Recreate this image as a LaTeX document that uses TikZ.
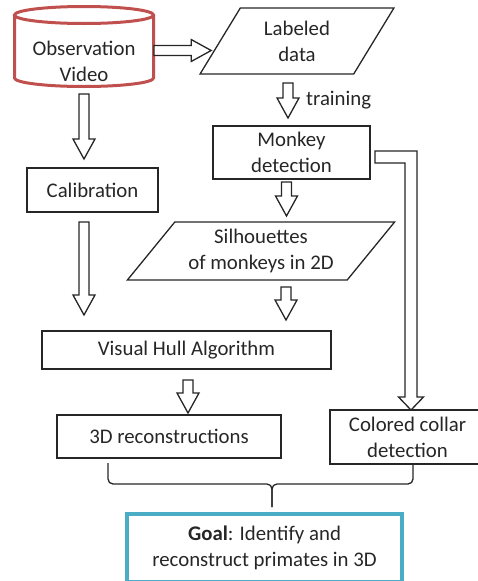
\documentclass[tikz,border=0pt]{standalone}
\usepackage{fontspec}
\setmainfont{Carlito}
\usetikzlibrary{shapes.geometric,calc}

\definecolor{obsred}{HTML}{C0504D}
\definecolor{goalblue}{HTML}{4BACC6}
\definecolor{inkgray}{HTML}{262626}

\tikzset{
  box/.style={draw=inkgray, line width=1.3pt, align=center, inner sep=0pt, outer sep=0pt},
  data/.style={trapezium, trapezium stretches=true, draw=inkgray, line width=1.3pt, align=center, inner sep=0pt, outer sep=0pt},
  hollow/.style={draw=inkgray, line width=1.3pt, fill=white},
  brace/.style={draw=inkgray, line width=1.3pt, rounded corners=5pt},
}

% hollow block arrow from #1 to #2
\newcommand{\bigarrow}[2]{%
  \coordinate (ba-s) at #1;
  \coordinate (ba-t) at #2;
  \coordinate (ba-b) at ($(ba-t)!20pt!(ba-s)$);
  \draw[hollow] ($(ba-s)!5pt!90:(ba-t)$) -- ($(ba-b)!5pt!-90:(ba-s)$) -- ($(ba-b)!11pt!-90:(ba-s)$)
    -- (ba-t) -- ($(ba-b)!11pt!90:(ba-s)$) -- ($(ba-b)!5pt!90:(ba-s)$) -- ($(ba-s)!5pt!-90:(ba-t)$) -- cycle;
}

\begin{document}
\begin{tikzpicture}[x=1pt, y=-1pt, font=\fontsize{20.8pt}{26pt}\selectfont, text=inkgray]
    \useasboundingbox (0,0) rectangle (477,581);

    % Input video
    \node[align=center, inner sep=0pt] (obs) at (84,61) {Observation\\Video};
    \draw[obsred, line width=3pt] let \p1=(obs.center) in
        (\x1,\y1+46pt) ellipse [x radius=69.5pt, y radius=8.5pt]
        (\x1-69.5pt,\y1+46pt) -- (\x1-69.5pt,\y1-17pt)
        arc [start angle=180, end angle=360, x radius=69.5pt, y radius=8.5pt]
        -- (\x1+69.5pt,\y1+46pt);

    % Right branch
    \node[data, trapezium left angle=60, trapezium right angle=120,
          minimum width=194pt, minimum height=66pt] (labeled) at (297,41) {Labeled\\data};
    \node[box, minimum width=157pt, minimum height=53pt] (monkey) at (291.5,152.5) {Monkey\\detection};
    \node[anchor=west, inner sep=0pt] (train) at (306,100) {training};
    \node[data, trapezium left angle=47.6, trapezium right angle=132.4,
          minimum width=268pt, minimum height=58pt] (silh) at (261,251) {Silhouettes\\of monkeys in 2D};

    % Left branch
    \node[box, minimum width=131pt, minimum height=44pt] (calib) at (92.5,190) {Calibration};
    \node[box, minimum width=289pt, minimum height=38pt] (vhull) at (186.5,350) {Visual Hull Algorithm};
    \node[box, minimum width=224pt, minimum height=43pt] (recon) at (169,436.5) {3D reconstructions};
    \node[box, minimum width=155pt, minimum height=54pt] (collar) at (407.5,437) {Colored collar\\detection};

    % Goal
    \node[box, draw=goalblue, line width=4pt, minimum width=275pt, minimum height=68pt] (goal)
        at (264.5,548) {\textbf{Goal}: Identify and\\reconstruct primates in 3D};

    % Arrows
    \coordinate (a1) at ([xshift=70pt,yshift=10.5pt]obs.center);
    \bigarrow{(a1)}{($(labeled.west |- a1)+(-9,0)$)}
    \coordinate (a2) at ($(labeled.south)+(-9,9)$);
    \bigarrow{(a2)}{($(a2 |- monkey.north)+(0,-8)$)}
    \coordinate (a3) at ($(monkey.south)+(-5,3)$);
    \bigarrow{(a3)}{($(a3 |- silh.north)+(0,-6)$)}
    \coordinate (a4) at ($(silh.south)+(25,7)$);
    \bigarrow{(a4)}{($(a4 |- vhull.north)+(0,-11)$)}
    \coordinate (a5) at ([yshift=-33pt]obs.center);
    \bigarrow{(a5)}{($(a5 |- calib.north)+(0,-9)$)}
    \coordinate (a6) at ($(calib.south)+(-8.5,10)$);
    \bigarrow{(a6)}{($(a6 |- vhull.north)+(0,-16)$)}
    \coordinate (a7) at ($(vhull.south)+(1.5,11)$);
    \bigarrow{(a7)}{($(a7 |- recon.north)+(0,-2)$)}

    % Bent arrow to collar detection
    \draw[hollow] let \p1=([xshift=5pt,yshift=-4.5pt]monkey.east), \p2=([xshift=3.5pt]collar.north) in
        (\x1,\y1+6pt) -- (\x2+6pt,\y1+6pt) -- (\x2+6pt,\y2+13pt) -- (\x2+12.5pt,\y2+13pt)
        -- (\x2,\y2) -- (\x2-12.5pt,\y2+13pt) -- (\x2-6pt,\y2+13pt) -- (\x2-6pt,\y1-6pt)
        -- (\x1,\y1-6pt) -- cycle;

    % Brace into the goal
    \coordinate (bl) at ($(recon.south west)+(51,5)$);
    \coordinate (br) at ($(collar.south)+(5.5,-1)$);
    \coordinate (bt) at ($(goal.north)+(7.5,-7)$);
    \draw[brace] (bl) -- ++(0,21) -| (bt);
    \draw[brace] (br) -- ++(0,21) -| (bt);
\end{tikzpicture}
\end{document}
